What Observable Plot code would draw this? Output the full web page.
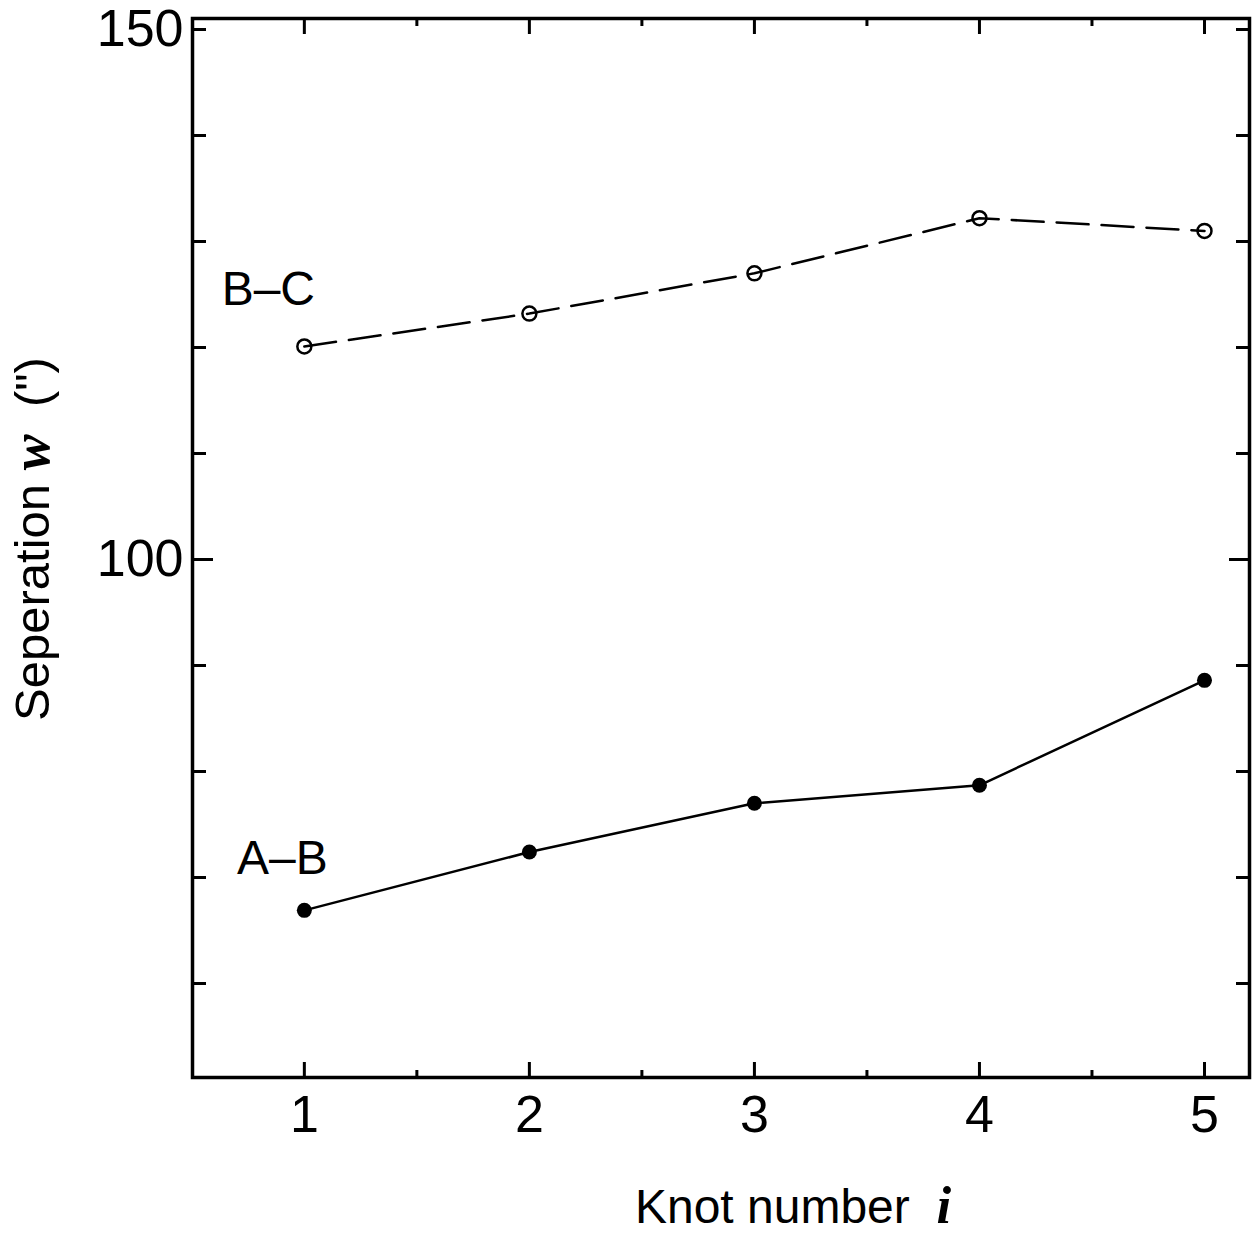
<!DOCTYPE html>
<html><head><meta charset="utf-8">
<script src="https://cdn.jsdelivr.net/npm/d3@7"></script>
<script src="https://cdn.jsdelivr.net/npm/@observablehq/plot@0.6"></script>
<style>body{margin:0;background:#fff}</style>
</head><body><div id="chart"></div>
<script>
const knots = [1, 2, 3, 4, 5];
const abValues = [66.9, 72.4, 77.0, 78.7, 88.6];
const bcValues = [120.1, 123.2, 127.0, 132.2, 131.0];
const seriesNames = ["A–B", "B–C"];
const xTicks = [1, 2, 3, 4, 5];
const xMinorTicks = [1.5, 2.5, 3.5, 4.5];
const yTicks = [60, 70, 80, 90, 110, 120, 130, 140, 150];
const yMajorTicks = [100];
const yTickLabels = [100, 150];
const xLabelMain = "Knot number  ";
const xLabelVar = "i";
const yLabelMain = "Seperation ";
const yLabelVar = "w";
const yLabelUnit = "  (\")";

const ab = knots.map((k, i) => ({knot: k, w: abValues[i], series: seriesNames[0]}));
const bc = knots.map((k, i) => ({knot: k, w: bcValues[i], series: seriesNames[1]}));

const blank = () => "";
const intFmt = d => String(d);
const svg = Plot.plot({
  width: 1257,
  height: 1237,
  marginLeft: 192,
  marginRight: 8,
  marginTop: 18,
  marginBottom: 160,
  style: {fontFamily: "'Liberation Sans', Arial, sans-serif", background: "white", color: "black"},
  x: {domain: [0.503, 5.2]},
  y: {domain: [51.13, 151.04]},
  marks: [
    Plot.axisX(xTicks, {anchor: "bottom", tickSize: -15, tickPadding: 33, strokeWidth: 3, fontSize: 52, tickFormat: intFmt, label: null}),
    Plot.axisX(xMinorTicks, {anchor: "bottom", tickSize: -7, strokeWidth: 3, tickFormat: blank, label: null}),
    Plot.axisX(xTicks, {anchor: "top", tickSize: -15, strokeWidth: 3, tickFormat: blank, label: null}),
    Plot.axisX(xMinorTicks, {anchor: "top", tickSize: -7, strokeWidth: 3, tickFormat: blank, label: null}),
    Plot.axisY(yTicks, {anchor: "left", tickSize: -14, strokeWidth: 3, tickFormat: blank, label: null}),
    Plot.axisY(yMajorTicks, {anchor: "left", tickSize: -21, strokeWidth: 3, tickFormat: blank, label: null}),
    Plot.axisY(yTicks, {anchor: "right", tickSize: -14, strokeWidth: 3, tickFormat: blank, label: null}),
    Plot.axisY(yMajorTicks, {anchor: "right", tickSize: -21, strokeWidth: 3, tickFormat: blank, label: null}),
    Plot.axisY(yTickLabels, {anchor: "left", tickSize: 0, tickPadding: 9, fontSize: 52, tickFormat: intFmt, label: null}),
    Plot.frame({stroke: "black", strokeWidth: 3.5}),
    Plot.line(bc, {x: "knot", y: "w", stroke: "black", strokeWidth: 2.5, strokeDasharray: "32,13"}),
    Plot.dot(bc, {x: "knot", y: "w", r: 7, stroke: "black", strokeWidth: 2.5, fill: "none"}),
    Plot.line(ab, {x: "knot", y: "w", stroke: "black", strokeWidth: 2.5}),
    Plot.dot(ab, {x: "knot", y: "w", r: 7.5, fill: "black", stroke: "none"}),
    Plot.text([bc[0]], {x: "knot", y: "w", text: "series", dx: -36, dy: -41, lineAnchor: "bottom", textAnchor: "middle", fontSize: 48}),
    Plot.text([ab[0]], {x: "knot", y: "w", text: "series", dx: -22, dy: -36, lineAnchor: "bottom", textAnchor: "middle", fontSize: 48}),
    Plot.text([xLabelMain + xLabelVar], {text: d => d, frameAnchor: "bottom", dx: 72, dy: 145, lineAnchor: "bottom", textAnchor: "middle", fontSize: 48}),
    Plot.text([yLabelMain + yLabelVar + yLabelUnit], {text: d => d, frameAnchor: "left", rotate: -90, dx: -144, dy: -9, lineAnchor: "bottom", textAnchor: "middle", fontSize: 49})
  ]
});
document.getElementById("chart").appendChild(svg);

function richLabel(full, parts) {
  d3.select(svg).selectAll("text").filter(function() { return this.textContent === full; }).each(function() {
    const t = d3.select(this);
    t.text(null).style("white-space", "pre");
    parts.forEach(p => {
      const ts = t.append("tspan").text(p.text).style("white-space", "pre");
      if (p.serif) ts.attr("font-family", "'Liberation Serif', 'DejaVu Serif', serif").attr("font-weight", "bold").attr("font-style", "italic").attr("font-size", "1.1em");
    });
  });
}
richLabel(xLabelMain + xLabelVar, [{text: xLabelMain}, {text: xLabelVar, serif: true}]);
richLabel(yLabelMain + yLabelVar + yLabelUnit, [{text: yLabelMain}, {text: yLabelVar, serif: true}, {text: yLabelUnit}]);
</script>
</body></html>
